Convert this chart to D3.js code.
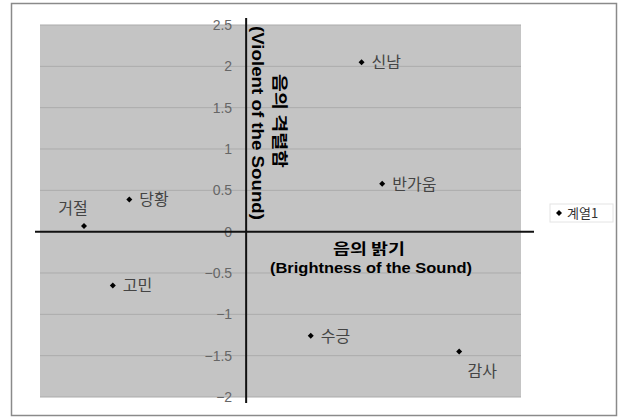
<!DOCTYPE html>
<html>
<head>
<meta charset="utf-8">
<script src="https://cdn.jsdelivr.net/npm/d3@7"></script>
<style>
  html, body { margin: 0; padding: 0; background: #fff; }
  svg { display: block; }
</style>
</head>
<body>
<svg id="chart" width="619" height="417"></svg>
<script>
// Emotion words placed by brightness (x) and violence (y) of the sound
const words      = ["신남", "반가움", "당황", "거절", "고민", "수긍", "감사"];
const brightness = [0.84, 0.99, -0.85, -1.18, -0.97, 0.47, 1.55];
const violence   = [2.05, 0.58, 0.39, 0.07, -0.65, -1.26, -1.45];
const labelSide  = ["right", "right", "right", "above", "right", "right", "below"];
const yTicks     = [-2, -1.5, -1, -0.5, 0, 0.5, 1, 1.5, 2, 2.5];
const seriesName = "계열1";

const svg = d3.select("#chart");
const korean = "'Noto Sans CJK KR', 'Noto Sans', sans-serif";
const latin = "'Liberation Sans', Arial, sans-serif";

// outer chart frame
svg.append("rect")
  .attr("x", 11.5).attr("y", 3.5).attr("width", 605).attr("height", 412)
  .attr("fill", "#fff").attr("stroke", "#8a8a8a").attr("stroke-width", 1.5);

const plot = { left: 40, top: 25, right: 521, bottom: 397 };
const x = d3.scaleLinear().domain([-1.5, 2]).range([plot.left, plot.right]);
const y = d3.scaleLinear().domain([-2, 2.5]).range([plot.bottom, plot.top]);

// plot area
svg.append("rect")
  .attr("x", plot.left).attr("y", plot.top)
  .attr("width", plot.right - plot.left).attr("height", plot.bottom - plot.top)
  .attr("fill", "#c4c4c4");

// horizontal gridlines
svg.append("g").selectAll("line").data(yTicks).join("line")
  .attr("x1", plot.left).attr("x2", plot.right)
  .attr("y1", d => y(d)).attr("y2", d => y(d))
  .attr("stroke", "#ababab").attr("stroke-width", 1);

// y tick labels, placed just left of the vertical axis
const yAxis = d3.axisLeft(y).tickValues(yTicks).tickSize(0).tickPadding(14)
  .tickFormat(d => d < 0 ? "−" + Math.abs(d) : String(d));
const gy = svg.append("g").attr("transform", `translate(${x(0)},0)`).call(yAxis);
gy.select(".domain").remove();
gy.selectAll("text")
  .attr("font-family", latin).attr("font-size", 14).attr("fill", "#666");

// axes crossing at the origin
svg.append("line")
  .attr("x1", plot.left - 5).attr("x2", plot.right + 13)
  .attr("y1", y(0)).attr("y2", y(0))
  .attr("stroke", "#111").attr("stroke-width", 2);
svg.append("line")
  .attr("x1", x(0)).attr("x2", x(0))
  .attr("y1", plot.top - 7).attr("y2", plot.bottom + 6)
  .attr("stroke", "#111").attr("stroke-width", 2);

// axis titles
function title(sel, txt, font, size, len) {
  return sel.append("text").attr("text-anchor", "middle")
    .attr("font-family", font).attr("font-weight", "bold").attr("font-size", size)
    .attr("fill", "#000")
    .attr("textLength", len).attr("lengthAdjust", "spacingAndGlyphs")
    .text(txt);
}
title(svg, "음의 밝기", korean, 15, 72).attr("x", 369).attr("y", 254);
title(svg, "(Brightness of the Sound)", latin, 14, 202).attr("x", 371).attr("y", 273);

const yt = svg.append("g").attr("transform", "translate(268,121) rotate(90)");
title(yt, "음의 격렬함", korean, 16, 94).attr("x", 0).attr("y", -6);
title(yt, "(Violent of the Sound)", latin, 16, 194).attr("x", 2).attr("y", 16);

// points: small square diamonds
const diamond = d3.symbol().type(d3.symbolSquare).size(18);
const pts = words.map((w, i) => ({ w, bx: brightness[i], vy: violence[i], side: labelSide[i] }));
const g = svg.append("g");
g.selectAll("path").data(pts).join("path")
  .attr("d", diamond)
  .attr("transform", d => `translate(${x(d.bx)},${y(d.vy)}) rotate(45)`)
  .attr("fill", "#000");

g.selectAll("text").data(pts).join("text")
  .attr("font-family", korean).attr("font-size", 16).attr("fill", "#444")
  .attr("text-anchor", d => d.side === "right" ? "start" : "middle")
  .attr("x", d => d.side === "right" ? x(d.bx) + 10 : d.side === "above" ? x(d.bx) - 11 : x(d.bx) + 23)
  .attr("y", d => d.side === "right" ? y(d.vy) + 6 : d.side === "above" ? y(d.vy) - 12 : y(d.vy) + 25)
  .text(d => d.w);

// legend
const lg = svg.append("g").attr("transform", "translate(550,204)");
lg.append("rect").attr("width", 63).attr("height", 18)
  .attr("fill", "#fff").attr("stroke", "#e4e4e4");
lg.append("path").attr("d", diamond).attr("transform", "translate(9,9) rotate(45)").attr("fill", "#000");
lg.append("text").attr("x", 17).attr("y", 14)
  .attr("font-family", korean).attr("font-size", 13).attr("fill", "#333")
  .text(seriesName);
</script>
</body>
</html>
